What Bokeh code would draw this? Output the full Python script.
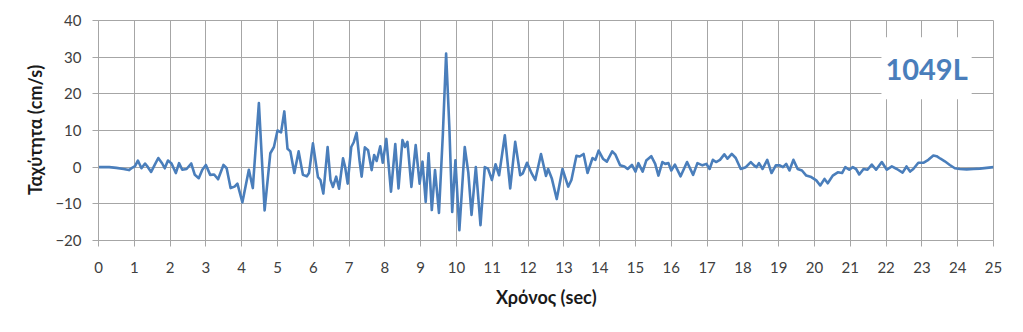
from bokeh.plotting import figure
from bokeh.models import Range1d, FixedTicker, Label, BoxAnnotation
from bokeh.embed import file_html
from bokeh.resources import INLINE

# ---- data ----
time_s = [0, 0.3, 0.5, 0.7, 0.85, 0.95, 1.02, 1.1, 1.2, 1.3, 1.38, 1.47, 1.57, 1.67, 1.78, 1.85,
          1.94, 2.04, 2.16, 2.25, 2.34, 2.46, 2.59, 2.69, 2.8, 2.9, 3.0, 3.12, 3.23, 3.34, 3.49,
          3.58, 3.69, 3.8, 3.88, 4.02, 4.2, 4.31, 4.48, 4.64, 4.8, 4.9, 5.0, 5.1, 5.19, 5.28,
          5.36, 5.47, 5.59, 5.71, 5.82, 5.88, 5.99, 6.13, 6.2, 6.28, 6.4, 6.48, 6.55, 6.64,
          6.72, 6.83, 6.89, 6.96, 7.06, 7.13, 7.21, 7.29, 7.35, 7.44, 7.53, 7.63, 7.7, 7.77,
          7.87, 7.94, 8.04, 8.17, 8.29, 8.38, 8.49, 8.56, 8.63, 8.74, 8.86, 8.97, 9.05, 9.14,
          9.22, 9.31, 9.4, 9.51, 9.62, 9.71, 9.8, 9.88, 9.97, 10.08, 10.23, 10.33, 10.42,
          10.54, 10.67, 10.79, 10.88, 10.99, 11.09, 11.19, 11.35, 11.5, 11.64, 11.78, 11.85,
          11.97, 12.1, 12.2, 12.36, 12.5, 12.56, 12.66, 12.8, 12.96, 13.12, 13.21, 13.35,
          13.44, 13.55, 13.66, 13.8, 13.88, 13.97, 14.09, 14.2, 14.35, 14.44, 14.57, 14.69,
          14.78, 14.9, 15.0, 15.08, 15.2, 15.3, 15.44, 15.55, 15.64, 15.75, 15.83, 15.92,
          16.0, 16.1, 16.26, 16.44, 16.61, 16.73, 16.87, 16.98, 17.07, 17.16, 17.25, 17.36,
          17.48, 17.57, 17.69, 17.8, 17.94, 18.08, 18.22, 18.31, 18.38, 18.45, 18.55, 18.68,
          18.8, 18.92, 19.03, 19.12, 19.21, 19.3, 19.41, 19.53, 19.65, 19.77, 19.91, 20.05,
          20.16, 20.28, 20.37, 20.51, 20.65, 20.77, 20.86, 20.97, 21.07, 21.16, 21.25, 21.37,
          21.48, 21.6, 21.72, 21.88, 22.02, 22.16, 22.3, 22.46, 22.57, 22.67, 22.76, 22.9,
          23.04, 23.18, 23.32, 23.41, 23.52, 23.64, 23.78, 23.92, 24.06, 24.25, 24.44, 24.62,
          24.81, 25.0]
velocity = [0, 0, -0.2, -0.5, -0.8, -0.1, 0.3, 1.8, -0.3, 1.0, 0, -1.3, 0.6, 2.5, 1.0, -0.3,
            1.8, 1.0, -1.6, 1.1, -0.7, -0.5, 1.0, -2.1, -3.0, -0.7, 0.6, -2.1, -2.0, -3.3, 0.6,
            -0.3, -5.7, -5.3, -4.5, -9.6, -0.7, -5.7, 17.5, -11.8, 3.8, 5.5, 10.0, 9.5, 15.2, 5.0,
            4.3, -1.6, 4.3, -2.1, -2.5, -1.6, 6.5, -2.7, -3.5, -7.2, 5.5, -3.5, -5.4, -2.6,
            -5.9, 2.4, 0, -4.5, 5.5, 6.8, 9.4, 1.9, -2.6, 5.4, 4.6, -0.8, 3.3, 1.7,
            5.7, 1.2, 7.7, -6.7, 6.3, -5.8, 7.4, 5.5, 6.9, -5.4, 6.0, -4.5, 1.5, -9.5,
            3.8, -11.7, -0.8, -12.5, 9.2, 31.0, 11.0, -12.2, 1.9, -17.2, 5.5, -1.5, -13.0,
            0, -15.8, 0, -0.4, -3.5, 0.8, -2.2, 8.7, -5.8, 6.9, -2.2, -1.7,
            1.2, -1.7, -3.5, 3.6, -2.4, -0.5, -3.0, -8.7, -0.5, -5.3, -3.5, 3.1,
            2.9, 3.6, -1.6, 2.5, 2.0, 4.5, 2.3, 1.5, 4.3, 3.4, 0.5, 0.2,
            -0.5, 0.6, -1.2, 1.1, -1.2, 1.8, 3.0, 0.9, -2.3, 1.4, 0.9, 1.1,
            -0.9, 0.7, -2.5, 1.4, -2.1, 1.1, 0.5, 0.9, -0.5, 2.0, 1.4, 2.0,
            3.5, 2.3, 3.6, 2.5, -0.5, 0, 1.4, 0.5, 0, 1.1, -0.5, 2.0,
            -1.6, 0.5, 0.5, 0, 0.9, -0.9, 2.0, -0.5, -0.9, -2.3, -2.7, -3.6,
            -5.0, -3.2, -4.4, -2.3, -1.4, -1.6, 0, -0.7, 0, -0.5, -2.0, -0.5,
            -0.7, 0.7, -0.7, 1.4, -0.7, 0.2, -0.5, -1.5, 0.2, -1.2, -0.5, 1.2,
            1.2, 2.0, 3.2, 3.0, 2.3, 1.6, 0.6, -0.3, -0.5, -0.6, -0.5, -0.4,
            -0.2, 0]
x_ticks = list(range(0, 26))
y_ticks = [-20, -10, 0, 10, 20, 30, 40]
station_label = "1049L"
x_title = "Χρόνος (sec)"
y_title = "Ταχύτητα (cm/s)"

LINE = "#4a7ebb"
GRID = "#a6a6a6"
FONT = "Lato"

p = figure(width=1015, height=324, output_backend="svg", toolbar_location=None,
           x_range=Range1d(0, 25), y_range=Range1d(-20, 40),
           min_border_left=98, min_border_right=22, min_border_top=20, min_border_bottom=84)
p.outline_line_color = GRID
p.background_fill_color = "white"
p.border_fill_color = "white"

p.line(time_s, velocity, line_color=LINE, line_width=2.6, line_join="round")

for ax in (p.xaxis[0], p.yaxis[0]):
    ax.axis_line_color = GRID
    ax.major_tick_line_color = GRID
    ax.minor_tick_line_color = None
    ax.major_tick_in = 0
    ax.major_tick_out = 6
    ax.major_label_text_font = FONT
    ax.major_label_text_font_size = "15px"
    ax.major_label_text_color = "#404040"
    ax.axis_label_text_font = FONT
    ax.axis_label_text_font_size = "18px"
    ax.axis_label_text_font_style = "bold"
    ax.axis_label_text_color = "#1a1a1a"

p.xaxis.ticker = FixedTicker(ticks=x_ticks)
p.yaxis.ticker = FixedTicker(ticks=y_ticks)
p.xaxis.axis_label = x_title
p.yaxis.axis_label = y_title
p.xaxis.major_label_standoff = 15
p.xaxis.axis_label_standoff = 10
p.yaxis.major_label_standoff = 11
p.yaxis.axis_label_standoff = 6

p.xgrid.ticker = FixedTicker(ticks=x_ticks)
p.ygrid.ticker = FixedTicker(ticks=y_ticks)
p.xgrid.grid_line_color = GRID
p.ygrid.grid_line_color = GRID

box = BoxAnnotation(left=21.87, right=24.39, bottom=18.5, top=35.4,
                    fill_color="white", fill_alpha=1.0, line_color=None)
p.add_layout(box)
lab = Label(x=23.13, y=26.9, text=station_label, text_align="center", text_baseline="middle",
            text_font=FONT, text_font_style="bold", text_font_size="29px", text_color=LINE)
p.add_layout(lab)

open("out.html", "w").write(file_html(p, INLINE))
